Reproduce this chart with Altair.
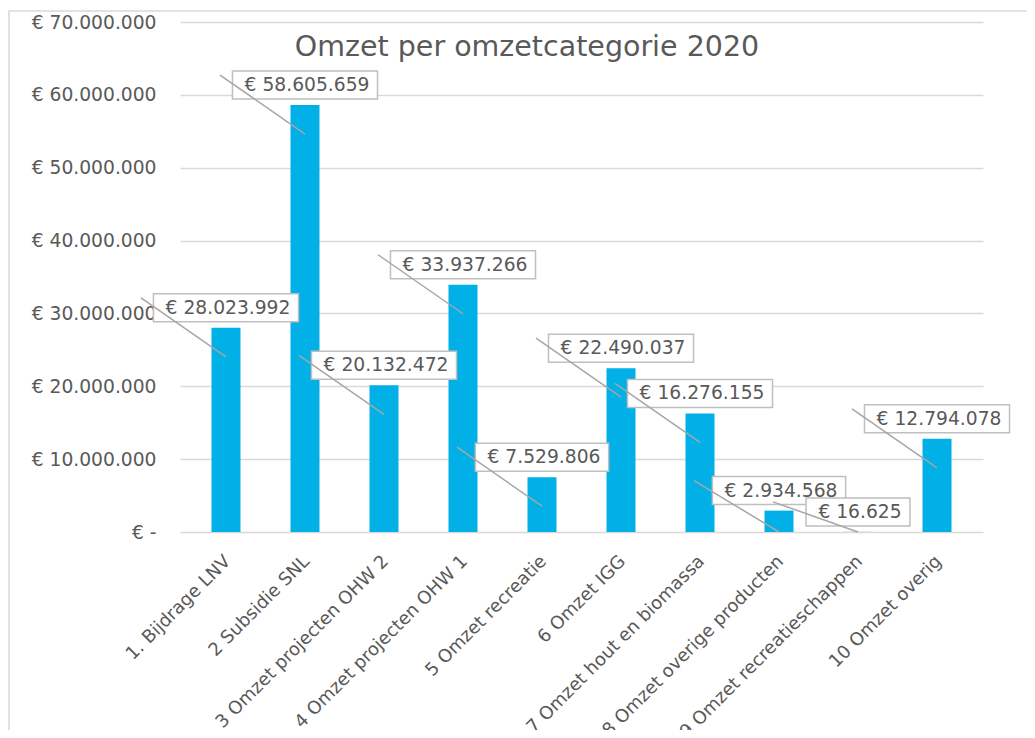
import json
import altair as alt
import pandas as pd

# ---- data ----
categories = [
    "1. Bijdrage LNV",
    "2 Subsidie SNL",
    "3 Omzet projecten OHW 2",
    "4 Omzet projecten OHW 1",
    "5 Omzet recreatie",
    "6 Omzet IGG",
    "7 Omzet hout en biomassa",
    "8 Omzet overige producten",
    "9 Omzet recreatieschappen",
    "10 Omzet overig",
]
values = [28023992, 58605659, 20132472, 33937266, 7529806,
          22490037, 16276155, 2934568, 16625, 12794078]
y_ticks = [0, 10000000, 20000000, 30000000, 40000000, 50000000, 60000000, 70000000]

TITLE = "Omzet per omzetcategorie 2020"

# ---- styling ----
FONT = "DejaVu Sans"
FS = 18.7
XFS = 18
TXT = "#595959"
BAR = "#00B0E6"
GRID = "#D9D9D9"
STEP = 80.0          # px per category
PLOT_W = 803
PLOT_H = 510
PX_PER_UNIT = PLOT_H / 70000000.0


def euro(v):
    return "€ " + f"{v:,}".replace(",", ".")


def text_width(s):
    w = 0.0
    for ch in s:
        if ch in "0123456789€":
            w += 0.636
        elif ch in " .":
            w += 0.318
        else:
            w += 0.6
    return w * FS


labels = [euro(v) for v in values]
box_half = [(text_width(s) + 22) / 2.0 / STEP for s in labels]

df = pd.DataFrame({
    "idx": list(range(len(categories))),
    "cat": categories,
    "value": values,
    "label": labels,
})
df["box_lo"] = df["idx"] - pd.Series(box_half)
df["box_hi"] = df["idx"] + pd.Series(box_half)
# leader end: ~29px into the bar, never below the baseline
df["lead_end"] = (df["value"] - 29 / PX_PER_UNIT).clip(lower=0)

pad_units = 41.5 / STEP
xscale = alt.Scale(domain=[-pad_units, len(categories) - 1 + pad_units], nice=False, zero=False)
yscale = alt.Scale(domain=[0, 70000000], nice=False)

label_arr = json.dumps(categories, ensure_ascii=False)

x_axis = alt.Axis(
    values=list(range(len(categories))),
    labelExpr=f"{label_arr}[datum.value]",
    labelAngle=-45,
    labelAlign="right",
    labelBaseline="top",
    labelPadding=20,
    labelOffset=-5,
    labelFont=FONT,
    labelFontSize=XFS,
    labelColor=TXT,
    labelLimit=600,
    labelOverlap=False,
    labelBound=False,
    labelFlush=False,
    grid=False,
    domain=False,
    ticks=False,
    title=None,
)
y_axis = alt.Axis(
    values=y_ticks,
    labelExpr="datum.value == 0 ? '€ -\u2007\u2009' : '€ ' + replace(format(datum.value, ','), regexp(',', 'g'), '.')",
    labelFont=FONT,
    labelFontSize=FS,
    labelColor=TXT,
    labelPadding=24,
    grid=True,
    gridColor=GRID,
    gridWidth=1.3,
    domain=False,
    ticks=False,
    title=None,
)

base = alt.Chart(df)

frame = alt.Chart(pd.DataFrame({"a": [0]})).mark_rect(
    fill=None, stroke=GRID, strokeWidth=1.5
).encode(
    x=alt.value(-171), x2=alt.value(2000),
    y=alt.value(-11), y2=alt.value(2000),
)

bars = base.mark_bar(width=29, color=BAR).encode(
    x=alt.X("idx:Q", scale=xscale, axis=x_axis),
    y=alt.Y("value:Q", scale=yscale, axis=y_axis),
)

boxes = base.mark_rect(
    fill="white", stroke="#BFBFBF", strokeWidth=1.5, yOffset=-34, y2Offset=-6
).encode(
    x=alt.X("box_lo:Q", scale=xscale),
    x2="box_hi:Q",
    y=alt.Y("value:Q", scale=yscale),
    y2="value:Q",
)

texts = base.mark_text(
    font=FONT, fontSize=FS, color=TXT, baseline="middle", align="center", dx=2, dy=-20
).encode(
    x=alt.X("idx:Q", scale=xscale),
    y=alt.Y("value:Q", scale=yscale),
    text="label:N",
)

leaders = base.mark_rule(
    color="#A6A6A6", strokeWidth=1.5, xOffset=-85, yOffset=-30
).encode(
    x=alt.X("idx:Q", scale=xscale),
    x2="idx:Q",
    y=alt.Y("value:Q", scale=yscale),
    y2="lead_end:Q",
)

title = alt.Chart(pd.DataFrame({"t": [TITLE]})).mark_text(
    font=FONT, fontSize=28.5, color=TXT, align="center", baseline="middle"
).encode(
    x=alt.value(347), y=alt.value(25), text="t:N"
)

chart = alt.layer(frame, bars, boxes, texts, leaders, title).properties(
    width=PLOT_W,
    height=PLOT_H,
    padding={"left": 172, "top": 14, "right": 44, "bottom": 198},
    autosize=alt.AutoSizeParams(type="none"),
).configure_view(stroke=None)

chart.save("out.html", embed_options={"renderer": "svg", "actions": False})
